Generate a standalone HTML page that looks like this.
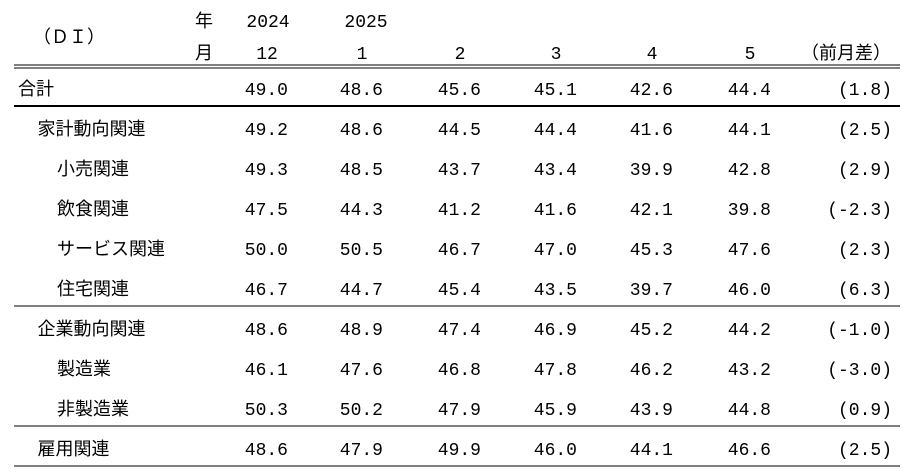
<!DOCTYPE html>
<html><head><meta charset="utf-8">
<style>
html,body{margin:0;padding:0;background:#fff;}
svg{display:block;font-family:"Liberation Mono","Noto Sans CJK JP",monospace;}
text{font-size:18px;fill:#000;}
.jp{font-family:"Liberation Sans","Noto Sans CJK JP",sans-serif;}
</style></head>
<body>
<svg id="t" width="907" height="475" viewBox="0 0 907 475" xmlns="http://www.w3.org/2000/svg">
<text class="jp" x="33" y="43">（ＤＩ）</text>
<text class="jp" x="195" y="27">年</text>
<text class="jp" x="195" y="59">月</text>
<text x="268" y="27" text-anchor="middle">2024</text>
<text x="366" y="27" text-anchor="middle">2025</text>
<text class="jp" x="891" y="59" text-anchor="end">（前月差）</text>
<line x1="14" y1="65" x2="900" y2="65" stroke="#000" stroke-width="1"/>
<line x1="14" y1="68" x2="900" y2="68" stroke="#000" stroke-width="1"/>
<line x1="14" y1="106" x2="900" y2="106" stroke="#000" stroke-width="2"/>
<line x1="14" y1="306" x2="900" y2="306" stroke="#000" stroke-width="1"/>
<line x1="14" y1="426" x2="900" y2="426" stroke="#000" stroke-width="1"/>
<line x1="14" y1="466" x2="900" y2="466" stroke="#000" stroke-width="1"/>
</svg>
<script>
const months = ["12","1","2","3","4","5"];
const rowLabels = ["合計","家計動向関連","小売関連","飲食関連","サービス関連","住宅関連","企業動向関連","製造業","非製造業","雇用関連"];
const rowIndent = [0,1,2,2,2,2,1,2,2,1];
const v12 = [49.0,49.2,49.3,47.5,50.0,46.7,48.6,46.1,50.3,48.6];
const v1 = [48.6,48.6,48.5,44.3,50.5,44.7,48.9,47.6,50.2,47.9];
const v2 = [45.6,44.5,43.7,41.2,46.7,45.4,47.4,46.8,47.9,49.9];
const v3 = [45.1,44.4,43.4,41.6,47.0,43.5,46.9,47.8,45.9,46.0];
const v4 = [42.6,41.6,39.9,42.1,45.3,39.7,45.2,46.2,43.9,44.1];
const v5 = [44.4,44.1,42.8,39.8,47.6,46.0,44.2,43.2,44.8,46.6];
const diffs = [1.8,2.5,2.9,-2.3,2.3,6.3,-1.0,-3.0,0.9,2.5];
const series = [v12,v1,v2,v3,v4,v5];
const colRight = [288,383,481,577,673,771];
const NS="http://www.w3.org/2000/svg";
const svg=document.getElementById('t');
function txt(x,y,s,anchor,cls){const e=document.createElementNS(NS,'text');e.setAttribute('x',x);e.setAttribute('y',y);if(anchor)e.setAttribute('text-anchor',anchor);if(cls)e.setAttribute('class',cls);e.textContent=s;svg.appendChild(e);return e;}
months.forEach((m,i)=>{
  const e=txt(colRight[i]-21,59,m,'middle');
  
  
});
rowLabels.forEach((lab,r)=>{
  const y=95+r*40;
  const l=txt(18+rowIndent[r]*19.5,y,lab,null,'jp');
  
  
  series.forEach((s,c)=>{
    const e=txt(colRight[c],y,s[r].toFixed(1),'end');
    
    
  });
  const d=txt(892,y,'('+diffs[r].toFixed(1)+')','end');
  
  
});
</script>
</body></html>
